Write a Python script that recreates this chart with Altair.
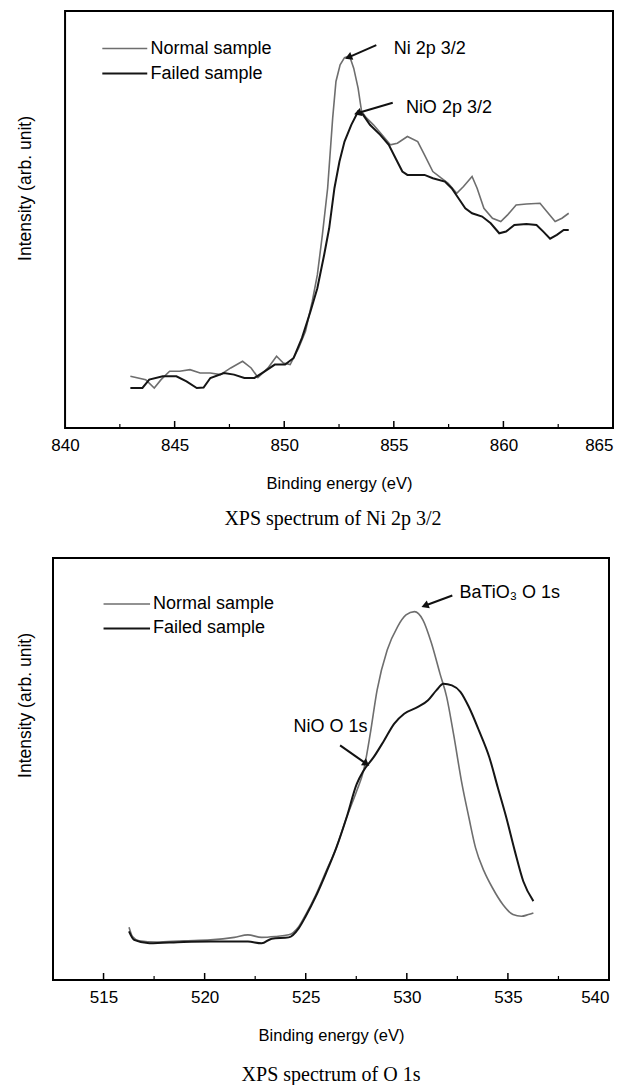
import altair as alt
import pandas as pd

SANS = "Liberation Sans"
SERIF = "Liberation Serif"

# ---------------- Ni 2p 3/2 panel ----------------
ni_normal_e = [842.98, 843.68, 844.07, 844.38, 844.77, 845.23, 845.70, 846.16, 846.63, 847.09,
               847.56, 848.10, 848.49, 848.80, 849.26, 849.65, 849.96, 850.27, 850.66, 850.97,
               851.28, 851.51, 851.74, 851.98, 852.21, 852.36, 852.55, 852.75, 852.98, 853.17,
               853.37, 853.53, 853.76, 854.07, 854.46, 854.84, 855.16, 855.62, 856.09, 856.40,
               856.78, 857.17, 857.48, 857.87, 858.18, 858.57, 858.80, 859.11, 859.50, 859.88,
               860.19, 860.58, 861.05, 861.67, 861.98, 862.36, 862.67, 862.98]
ni_normal_i = [12.4, 11.6, 9.6, 11.6, 13.6, 13.6, 14.0, 13.2, 13.2, 12.8,
               14.4, 16.0, 14.4, 12.1, 14.4, 17.2, 15.6, 15.2, 19.2, 23.2,
               30.4, 36.7, 46.3, 57.5, 74.3, 83.1, 87.1, 88.8, 89.2, 86.3,
               81.5, 75.9, 74.3, 72.7, 70.3, 67.9, 68.3, 69.9, 68.7, 65.5,
               61.5, 59.9, 58.7, 56.3, 57.9, 60.3, 57.5, 52.7, 50.3, 49.5,
               51.1, 53.5, 53.7, 53.9, 51.9, 49.5, 50.3, 51.5]

ni_failed_e = [842.98, 843.53, 843.84, 844.46, 845.08, 845.54, 846.01, 846.32, 846.63, 847.25,
               847.71, 848.18, 848.64, 849.11, 849.57, 850.04, 850.43, 850.81, 851.20, 851.51,
               851.82, 852.05, 852.29, 852.52, 852.75, 853.06, 853.37, 853.60, 853.91, 854.38,
               854.77, 855.08, 855.39, 855.62, 855.93, 856.40, 856.78, 857.33, 857.64, 857.95,
               858.26, 858.57, 859.03, 859.42, 859.81, 860.12, 860.50, 861.05, 861.51, 861.82,
               862.13, 862.44, 862.75, 862.98]
ni_failed_i = [9.6, 9.6, 11.6, 12.4, 12.4, 11.2, 9.6, 9.7, 12.0, 13.2,
               12.8, 12.0, 12.0, 13.6, 15.2, 15.2, 16.8, 21.6, 28.0, 33.5,
               41.5, 47.9, 57.5, 63.9, 68.7, 72.7, 75.9, 75.1, 72.7, 70.3,
               67.9, 64.7, 61.5, 60.7, 60.7, 60.7, 59.9, 59.1, 57.5, 55.1,
               52.7, 51.5, 50.7, 49.1, 46.7, 47.1, 48.7, 48.9, 48.7, 47.1,
               45.4, 46.3, 47.5, 47.5]

ni_frame = [840, 865]
ni_view_domain = [839.45, 865]
ni_ticks_major = [845, 850, 855, 860]
ni_ticks_minor = [842.5, 847.5, 852.5, 857.5, 862.5]
ni_labels = [840, 845, 850, 855, 860, 865]

ni_annot_text = ["Ni 2p 3/2", "NiO 2p 3/2"]
ni_annot_e = [855.0, 855.55]
ni_annot_i = [91.0, 76.7]
ni_arrow_e = [854.2, 854.95]
ni_arrow_i = [91.8, 78.0]
ni_arrow_e2 = [852.98, 853.4]
ni_arrow_i2 = [89.0, 75.6]
ni_arrow_ang = [248, 253]

ni_leg_e = [841.7, 843.75]
ni_leg_text_e = 843.9
ni_leg_i = [91.0, 85.0]

# ---------------- O 1s panel ----------------
o_normal_e = [516.26, 516.43, 516.76, 517.61, 518.95, 520.29, 521.47, 522.14, 522.82, 523.49,
              524.16, 524.66, 525.00, 525.50, 526.01, 526.51, 527.02, 527.52, 527.86, 528.19,
              528.53, 529.03, 529.54, 529.96, 530.38, 530.80, 531.22, 531.64, 531.97, 532.31,
              532.73, 533.07, 533.40, 533.82, 534.24, 534.75, 535.25, 535.67, 536.01, 536.26]
o_normal_i = [12.5, 10.3, 9.3, 9.0, 9.3, 9.5, 10.1, 10.7, 10.1, 10.3,
              10.7, 12.7, 15.5, 20.2, 25.8, 31.3, 38.5, 44.8, 49.6, 58.3,
              68.7, 78.2, 83.7, 86.5, 87.3, 85.3, 79.8, 72.6, 67.1, 58.3,
              46.4, 38.5, 31.3, 25.8, 21.8, 17.9, 15.5, 15.1, 15.5, 15.9]

o_failed_e = [516.26, 516.51, 517.27, 518.95, 520.29, 521.47, 522.14, 522.82, 523.32, 524.16,
              524.66, 525.00, 525.50, 526.01, 526.51, 527.02, 527.52, 527.86, 528.36, 528.87,
              529.37, 529.87, 530.55, 531.05, 531.47, 531.81, 532.23, 532.65, 533.07, 533.57,
              534.08, 534.50, 534.92, 535.34, 535.76, 536.26]
o_failed_i = [11.5, 9.5, 8.7, 9.0, 9.1, 9.1, 9.1, 8.7, 9.8, 10.1,
              12.3, 15.1, 19.8, 25.4, 31.3, 38.5, 46.4, 49.6, 52.8, 56.7,
              60.7, 63.1, 64.7, 66.3, 68.7, 70.2, 69.8, 68.3, 64.7, 59.1,
              52.8, 45.6, 38.5, 30.6, 23.4, 18.7]

o_frame = [512.5, 540]
o_view_domain = [512.5, 540]
o_ticks_major = [515, 520, 525, 530, 535]
o_ticks_minor = [517.5, 522.5, 527.5, 532.5, 537.5]
o_labels = [515, 520, 525, 530, 535, 540]

o_annot_text = ["BaTiO\u2083 O 1s", "NiO O 1s"]
o_annot_e = [532.6, 524.4]
o_annot_i = [91.7, 59.9]
o_arrow_e = [532.25, 526.7]
o_arrow_i = [91.1, 55.6]
o_arrow_e2 = [530.95, 527.95]
o_arrow_i2 = [88.8, 51.4]
o_arrow_ang = [249, 125]

o_leg_e = [515.0, 517.3]
o_leg_text_e = 517.45
o_leg_i = [89.1, 83.3]

SERIES = ["Normal sample", "Failed sample"]
STYLE = {"Normal sample": dict(color="#6e6e6e", strokeWidth=1.6),
         "Failed sample": dict(color="#151515", strokeWidth=2.0)}


def panel(normal_e, normal_i, failed_e, failed_i, dom, frame, labels, tmaj, tmin,
          ann_t, ann_e, ann_i, ar_e, ar_i, ar_e2, ar_i2, ar_ang,
          leg_e, leg_te, leg_i, width, height, title_pad, title_y, caption, interp, cap_off):
    xs = alt.Scale(domain=dom, nice=False, zero=False)
    ys = alt.Scale(domain=[0, 100], nice=False, zero=False)
    xax = alt.Axis(values=labels, format="d", title="Binding energy (eV)", ticks=False,
                   domain=False, grid=False, labelFont=SANS, labelFontSize=17,
                   labelColor="black", labelPadding=9, titleFont=SANS, titleFontSize=16.5,
                   titleFontWeight="normal", titleColor="black", titlePadding=22,
                   titleX=(frame[0] - dom[0] + (frame[1] - frame[0]) / 2) / (dom[1] - dom[0]) * width)
    yax = alt.Axis(title="Intensity (arb. unit)", labels=False, ticks=False, domain=False,
                   grid=False, minExtent=0, titleFont=SANS, titleFontSize=17.5,
                   titleFontWeight="normal", titleColor="black", titlePadding=title_pad,
                   titleY=title_y)

    layers = []
    for name, es, is_ in [("Normal sample", normal_e, normal_i), ("Failed sample", failed_e, failed_i)]:
        df = pd.DataFrame({"e": es, "i": is_, "o": range(len(es))})
        st = STYLE[name]
        layers.append(alt.Chart(df).mark_line(interpolate=interp, color=st["color"],
                                              strokeWidth=st["strokeWidth"]).encode(
            x=alt.X("e:Q", scale=xs, axis=xax), y=alt.Y("i:Q", scale=ys, axis=yax), order="o:Q"))

    # plot frame, drawn through the scales
    fdf = pd.DataFrame({"e": [frame[0]], "e2": [frame[1]], "i": [0], "i2": [100]})
    layers.append(alt.Chart(fdf).mark_rect(filled=False, color="black", strokeWidth=2).encode(
        x="e:Q", x2="e2:Q", y="i:Q", y2="i2:Q"))

    # legend (drawn inside the frame)
    for k, name in enumerate(SERIES):
        st = STYLE[name]
        ldf = pd.DataFrame({"e": [leg_e[0]], "e2": [leg_e[1]], "i": [leg_i[k]]})
        layers.append(alt.Chart(ldf).mark_rule(color=st["color"], strokeWidth=st["strokeWidth"]).encode(
            x="e:Q", x2="e2:Q", y="i:Q"))
        tdf = pd.DataFrame({"e": [leg_te], "i": [leg_i[k]], "t": [name]})
        layers.append(alt.Chart(tdf).mark_text(align="left", baseline="middle", font=SANS,
                                               fontSize=18, color="black").encode(
            x="e:Q", y="i:Q", text="t:N"))

    # annotations
    adf = pd.DataFrame({"e": ann_e, "i": ann_i, "t": ann_t})
    layers.append(alt.Chart(adf).mark_text(align="left", baseline="middle", font=SANS,
                                           fontSize=18, color="black").encode(
        x="e:Q", y="i:Q", text="t:N"))
    rdf = pd.DataFrame({"e": ar_e, "i": ar_i, "e2": ar_e2, "i2": ar_i2, "a": ar_ang})
    layers.append(alt.Chart(rdf).mark_rule(color="#111", strokeWidth=2).encode(
        x="e:Q", y="i:Q", x2="e2:Q", y2="i2:Q"))
    layers.append(alt.Chart(rdf).mark_point(shape="triangle", filled=True, size=70, color="#111",
                                            opacity=1).encode(
        x="e2:Q", y="i2:Q", angle=alt.Angle("a:Q", scale=None)))

    # inward ticks on the bottom frame
    layers.append(alt.Chart(pd.DataFrame({"e": tmaj})).mark_rule(color="black", strokeWidth=1.5).encode(
        x="e:Q", y=alt.value(height), y2=alt.value(height - 7)))
    layers.append(alt.Chart(pd.DataFrame({"e": tmin})).mark_rule(color="black", strokeWidth=1.2).encode(
        x="e:Q", y=alt.value(height), y2=alt.value(height - 4)))

    return alt.layer(*layers).properties(
        width=width, height=height,
        title=alt.TitleParams(caption, orient="bottom", font=SERIF, fontSize=20,
                              fontWeight="normal", color="black", offset=cap_off,
                              anchor="middle"))


top = panel(ni_normal_e, ni_normal_i, ni_failed_e, ni_failed_i, ni_view_domain, ni_frame, ni_labels,
            ni_ticks_major, ni_ticks_minor, ni_annot_text, ni_annot_e, ni_annot_i,
            ni_arrow_e, ni_arrow_i, ni_arrow_e2, ni_arrow_i2, ni_arrow_ang,
            ni_leg_e, ni_leg_text_e, ni_leg_i, 560, 417, 19, 177,
            "XPS spectrum of Ni 2p 3/2", "linear", 17)

bottom = panel(o_normal_e, o_normal_i, o_failed_e, o_failed_i, o_view_domain, o_frame, o_labels,
               o_ticks_major, o_ticks_minor, o_annot_text, o_annot_e, o_annot_i,
               o_arrow_e, o_arrow_i, o_arrow_e2, o_arrow_i2, o_arrow_ang,
               o_leg_e, o_leg_text_e, o_leg_i, 556, 422, 19, 147,
               "XPS spectrum of O 1s", "monotone", 21)

chart = alt.vconcat(top, bottom, spacing=28).properties(
    padding={"left": 8, "top": 2, "right": 5, "bottom": 0},
    background="white",
).configure_view(strokeWidth=0)

chart.save("out.html", embed_options={"renderer": "svg", "actions": False})
